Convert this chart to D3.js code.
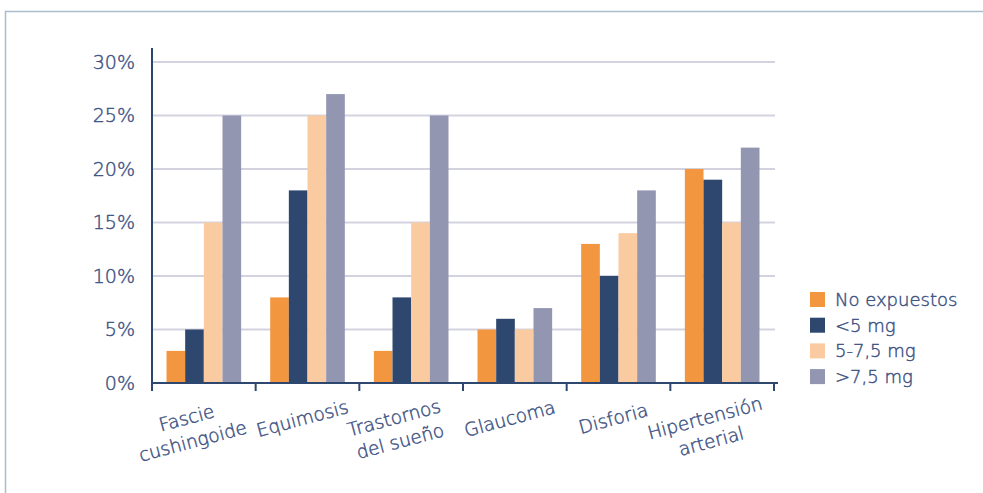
<!DOCTYPE html>
<html>
<head>
<meta charset="utf-8">
<script src="https://cdn.jsdelivr.net/npm/d3@7"></script>
<style>
  body { margin: 0; background: #fff; }
  svg { display: block; font-family: "DejaVu Sans", sans-serif; font-weight: 200; }
  text { stroke: #3E5283; stroke-width: 0.45px; }
</style>
</head>
<body>
<svg id="chart"></svg>
<script>
// categories (label lines) and series
const categories = [
    ["Fascie", "cushingoide"],
    ["Equimosis"],
    ["Trastornos", "del sueño"],
    ["Glaucoma"],
    ["Disforia"],
    ["Hipertensión", "arterial"]
];
const seriesNames = ["No expuestos", "<5 mg", "5-7,5 mg", ">7,5 mg"];
const noExpuestos = [3, 8, 3, 5, 13, 20];
const menos5 = [5, 18, 8, 6, 10, 19];
const de5a75 = [15, 25, 15, 5, 14, 15];
const mas75 = [25, 27, 25, 7, 18, 22];
const yTicks = [0, 5, 10, 15, 20, 25, 30];

const seriesValues = [noExpuestos, menos5, de5a75, mas75];
const colors = ["#F39640", "#2E476F", "#FACBA0", "#9296B0"];
const textColor = "#3E5283";

const width = 983, height = 493;
const margin = { top: 62, left: 152, right: 209, bottom: 110 };

const svg = d3.select("#chart").attr("width", width).attr("height", height);

// outer frame (top and left only)
svg.append("path")
    .attr("d", `M5.5,${height} V11.5 H${width}`)
    .attr("fill", "none")
    .attr("stroke", "#A9BCCD")
    .attr("stroke-width", 1.5);

const catKeys = categories.map(d => d.join(" "));
const x0 = d3.scaleBand()
    .domain(catKeys)
    .range([margin.left, width - margin.right])
    .paddingInner(0.28)
    .paddingOuter(0.14);
const x1 = d3.scaleBand()
    .domain(seriesNames)
    .range([0, x0.bandwidth()]);
const y = d3.scaleLinear()
    .domain([0, 30])
    .range([height - margin.bottom, margin.top]);

// gridlines
svg.append("g")
    .selectAll("line")
    .data(yTicks.filter(d => d > 0))
    .join("line")
    .attr("x1", margin.left)
    .attr("x2", width - margin.right + 1)
    .attr("y1", d => y(d))
    .attr("y2", d => y(d))
    .attr("stroke", "#D3D3DF")
    .attr("stroke-width", 2);

// bars
const groups = svg.append("g")
    .selectAll("g")
    .data(catKeys)
    .join("g")
    .attr("transform", d => `translate(${x0(d)},0)`);

groups.selectAll("rect")
    .data((d, i) => seriesNames.map((s, j) => ({ s, v: seriesValues[j][i], j })))
    .join("rect")
    .attr("x", d => x1(d.s))
    .attr("width", x1.bandwidth())
    .attr("y", d => y(d.v))
    .attr("height", d => y(0) - y(d.v))
    .attr("fill", d => colors[d.j]);

// y axis
const yAxis = svg.append("g")
    .attr("transform", `translate(${margin.left},0)`)
    .call(d3.axisLeft(y).tickValues(yTicks).tickSize(0).tickPadding(17).tickFormat(d => d + "%"));
yAxis.select(".domain").remove();
yAxis.selectAll("text")
    .attr("fill", textColor)
    .attr("font-size", 19)
    .attr("font-family", "DejaVu Sans")
    .attr("font-weight", 200);

svg.append("line")
    .attr("x1", margin.left).attr("x2", margin.left)
    .attr("y1", 48).attr("y2", y(0) + 1)
    .attr("stroke", "#2E476F").attr("stroke-width", 2);

// x axis with ticks at band boundaries
const step = x0.step();
const bounds = catKeys.map(k => x0(k) - x0.paddingInner() * step / 2);
bounds.push(bounds[bounds.length - 1] + step);

svg.append("line")
    .attr("x1", margin.left).attr("x2", width - margin.right + 4)
    .attr("y1", y(0)).attr("y2", y(0))
    .attr("stroke", "#2E476F").attr("stroke-width", 2);

svg.append("g")
    .selectAll("line")
    .data(bounds)
    .join("line")
    .attr("x1", d => d).attr("x2", d => d)
    .attr("y1", y(0)).attr("y2", y(0) + 8)
    .attr("stroke", "#2E476F").attr("stroke-width", 2);

// rotated category labels
const labels = svg.append("g")
    .selectAll("g")
    .data(categories)
    .join("g")
    .attr("transform", (d, i) => {
        const cx = x0(catKeys[i]) + x0.bandwidth() / 2 - (d.length > 1 ? 14 : 5);
        const cy = d.length > 1 ? 430 : 419;
        return `translate(${cx},${cy}) rotate(-15)`;
    });

labels.selectAll("text")
    .data(d => d.map((t, k) => ({ t, k, n: d.length })))
    .join("text")
    .attr("text-anchor", "middle")
    .attr("dy", d => (d.k - (d.n - 1) / 2) * 24 + 6)
    .attr("fill", textColor)
    .attr("font-size", 18.5)
    .text(d => d.t);

// legend
const legend = svg.append("g")
    .attr("transform", "translate(810,292)");

const items = legend.selectAll("g")
    .data(seriesNames)
    .join("g")
    .attr("transform", (d, i) => `translate(0,${i * 25.7})`);

items.append("rect")
    .attr("width", 15).attr("height", 15)
    .attr("fill", (d, i) => colors[i]);

items.append("text")
    .attr("x", 25)
    .attr("y", 14)
    .attr("fill", textColor)
    .attr("font-size", 18)
    .text(d => d);
</script>
</body>
</html>
